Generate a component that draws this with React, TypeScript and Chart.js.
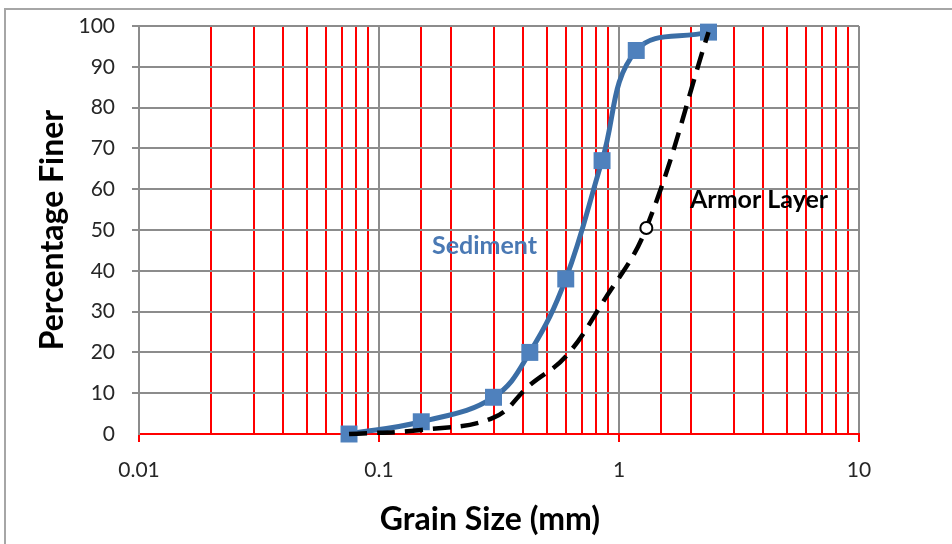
import React, { useEffect, useRef } from "react";
import { Chart, registerables } from "chart.js";

Chart.register(...registerables);

// Sieve sizes (mm) and cumulative percentage passing
const sedimentSizeMm = [0.075, 0.15, 0.3, 0.425, 0.6, 0.85, 1.18, 2.36];
const sedimentFiner = [0, 3, 9, 20, 38, 67, 94, 98.5];

const armorSizeMm = [0.075, 0.15, 0.3, 0.425, 0.6, 0.85, 1.3, 2.36];
const armorFiner = [0, 1, 4, 12, 19, 32, 50.5, 98.5];
// Only the median (D50) of the armor layer is marked
const armorMarkedSize = 1.3;

const xTickLabels = ["0.01", "0.1", "1", "10"];
const yMin = 0;
const yMax = 100;
const yStep = 10;

const GRAY = "#8c8c8c";
const RED = "#ff0000";
const BLUE_LINE = "#3b6ea6";
const BLUE_MARK = "#4f81bd";
const FONT = "Lato";

const isDecade = (v: number) => {
  const l = Math.log10(v);
  return Math.abs(l - Math.round(l)) < 1e-6;
};

const labelsPlugin = {
  id: "gradationLabels",
  afterDraw(chart: any) {
    const { ctx, chartArea } = chart;
    ctx.save();
    ctx.textAlign = "left";
    ctx.textBaseline = "alphabetic";

    ctx.fillStyle = "#4a79b4";
    ctx.font = `bold 25px ${FONT}`;
    ctx.fillText("Sediment", 432, 254);

    ctx.fillStyle = "#000000";
    ctx.fillText("Armor Layer", 690, 208);

    ctx.font = `bold 32px ${FONT}`;
    ctx.textAlign = "center";
    ctx.fillText("Grain Size (mm)", 490, 530);

    ctx.translate(63, (chartArea.top + chartArea.bottom) / 2);
    ctx.rotate(-Math.PI / 2);
    ctx.fillText("Percentage Finer", 0, 0);
    ctx.restore();
  },
};

export default function App() {
  const canvasRef = useRef<HTMLCanvasElement | null>(null);

  useEffect(() => {
    const canvas = canvasRef.current;
    if (!canvas) return;

    const sediment = sedimentSizeMm.map((x, i) => ({ x, y: sedimentFiner[i] }));
    const armor = armorSizeMm.map((x, i) => ({ x, y: armorFiner[i] }));

    const chart = new Chart(canvas, {
      type: "line",
      data: {
        datasets: [
          {
            label: "Armor Layer",
            data: armor,
            borderColor: "#000000",
            borderWidth: 4.5,
            borderDash: [18, 10],
            tension: 0.4,
            clip: false,
            pointRadius: armor.map((p) => (p.x === armorMarkedSize ? 6 : 0)),
            pointStyle: "circle",
            pointBackgroundColor: "#ffffff",
            pointBorderColor: "#000000",
            pointBorderWidth: 2,
          },
          {
            label: "Sediment",
            data: sediment,
            borderColor: BLUE_LINE,
            borderWidth: 5,
            tension: 0.4,
            clip: false,
            pointStyle: "rect",
            pointRadius: 12,
            pointBackgroundColor: BLUE_MARK,
            pointBorderColor: BLUE_MARK,
            pointBorderWidth: 0,
          },
        ],
      },
      options: {
        animation: false,
        responsive: false,
        maintainAspectRatio: false,
        layout: { padding: { left: 0, top: 26, right: 93, bottom: 0 } },
        plugins: {
          legend: { display: false },
          tooltip: { enabled: false },
        },
        scales: {
          x: {
            type: "logarithmic",
            min: 0.01,
            max: 10,
            afterFit: (s: any) => {
              s.height = 110;
            },
            border: { color: RED, width: 2 },
            grid: {
              color: (c: any) => (c.tick && isDecade(c.tick.value) ? GRAY : RED),
              lineWidth: 2,
              tickColor: (c: any) =>
                c.tick && isDecade(c.tick.value) ? RED : "rgba(0,0,0,0)",
              tickWidth: 2,
              tickLength: 8,
            },
            ticks: {
              autoSkip: false,
              maxRotation: 0,
              padding: 16,
              color: "#262626",
              font: { family: FONT, size: 21 },
              callback: (value: any) => {
                const v = Number(value);
                if (!isDecade(v)) return "";
                const idx = Math.round(Math.log10(v)) + 2;
                return xTickLabels[idx] ?? "";
              },
            },
          },
          y: {
            type: "linear",
            min: yMin,
            max: yMax,
            afterFit: (s: any) => {
              s.width = 139;
              s.paddingTop = 0;
              s.paddingBottom = 0;
            },
            border: { color: GRAY, width: 2 },
            grid: {
              color: (c: any) => (c.tick && c.tick.value === 0 ? RED : GRAY),
              lineWidth: 2,
              tickColor: (c: any) =>
                c.tick && c.tick.value === 0 ? "rgba(0,0,0,0)" : GRAY,
              tickLength: 7,
            },
            ticks: {
              stepSize: yStep,
              padding: 17,
              color: "#262626",
              font: { family: FONT, size: 21 },
            },
          },
        },
      },
      plugins: [labelsPlugin],
    });

    return () => chart.destroy();
  }, []);

  return (
    <div
      style={{
        position: "absolute",
        left: 0,
        top: 0,
        width: 952,
        height: 544,
        background: "#ffffff",
        overflow: "hidden",
      }}
    >
      <div
        style={{
          position: "absolute",
          left: 4,
          top: 8,
          width: 1000,
          height: 600,
          borderLeft: "2px solid #a6a6a6",
          borderTop: "2px solid #a6a6a6",
        }}
      />
      <canvas
        ref={canvasRef}
        width={952}
        height={544}
        style={{ position: "absolute", left: 0, top: 0, width: 952, height: 544 }}
      />
    </div>
  );
}
